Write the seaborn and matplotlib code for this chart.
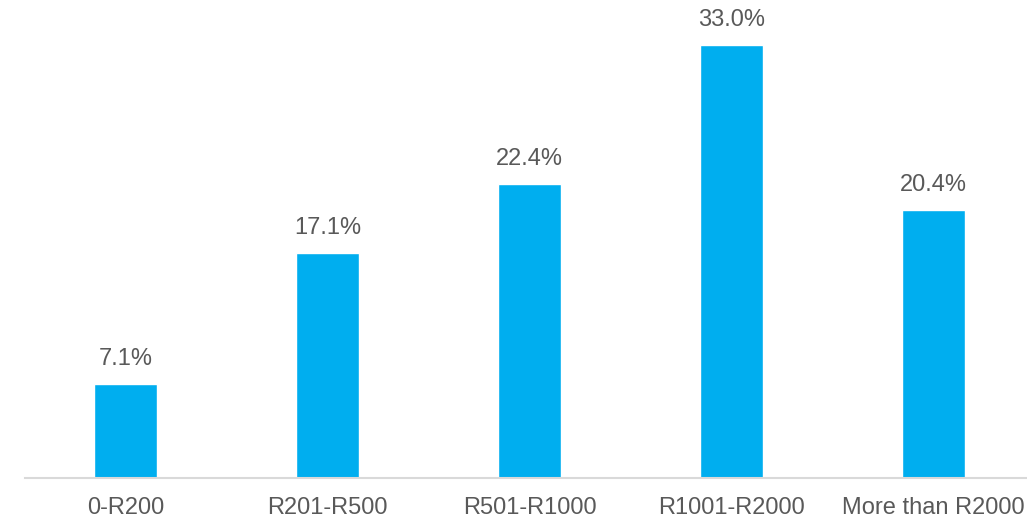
import matplotlib
matplotlib.use("Agg")
import matplotlib.pyplot as plt
import seaborn as sns
import pandas as pd

categories = ["0-R200", "R201-R500", "R501-R1000", "R1001-R2000", "More than R2000"]
shares = [7.1, 17.1, 22.4, 33.0, 20.4]
value_labels = ["7.1%", "17.1%", "22.4%", "33.0%", "20.4%"]

df = pd.DataFrame({"category": categories, "share": shares})

sns.set_theme(style="white")
plt.rcParams["font.family"] = ["Liberation Sans", "DejaVu Sans"]

W, H = 1027, 519
fig = plt.figure(figsize=(W / 100, H / 100), dpi=100)

# axes box in pixel terms: category band 202 px wide, first centre at x=125.5
left_px, base_px = 24.5, 477.5
step = 202.0
right_px = W
x_right = -0.5 + (right_px - left_px) / step
px_per_unit = 13.12
top_px = 0
y_top = (base_px - top_px) / px_per_unit
ax = fig.add_axes([left_px / W, (H - base_px) / H, (right_px - left_px) / W, (base_px - top_px) / H])

sns.barplot(data=df, x="category", y="share", color="#00AEEF", saturation=1,
            width=63 / 202, ax=ax)
ax.set_xlim(-0.5, x_right)
ax.set_ylim(0, y_top)

for i, (v, lab) in enumerate(zip(shares, value_labels)):
    ax.annotate(lab, (i, v), xytext=(0, 10), textcoords="offset points",
                ha="center", va="bottom", fontsize=17, color="#595959")

for s in ["top", "right", "left"]:
    ax.spines[s].set_visible(False)
ax.spines["bottom"].set_color("#D9D9D9")
ax.spines["bottom"].set_linewidth(1.5)
ax.set_yticks([])
ax.set_xlabel("")
ax.set_ylabel("")
ax.tick_params(axis="x", length=0, pad=14, labelsize=17, labelcolor="#595959")

fig.savefig("out.png", dpi=100)
